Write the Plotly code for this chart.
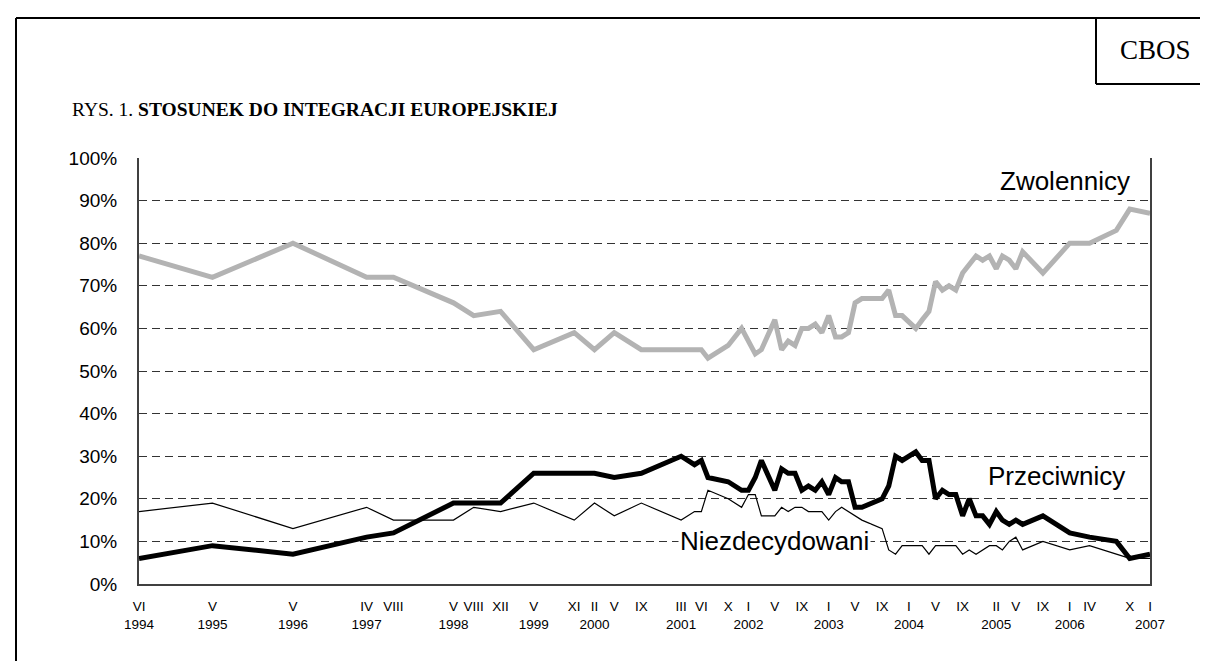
import plotly.graph_objects as go

# ---- data ----
survey_dates = [
    "1994-06", "1995-05", "1996-05", "1997-04", "1997-08", "1998-05", "1998-08", "1998-12",
    "1999-05", "1999-11", "2000-02", "2000-05", "2000-09", "2001-03", "2001-05", "2001-06",
    "2001-07", "2001-10", "2001-12", "2002-01", "2002-02", "2002-03", "2002-05", "2002-06",
    "2002-07", "2002-08", "2002-09", "2002-10", "2002-11", "2002-12", "2003-01", "2003-02",
    "2003-03", "2003-04", "2003-05", "2003-06", "2003-09", "2003-10", "2003-11", "2003-12",
    "2004-02", "2004-03", "2004-04", "2004-05", "2004-06", "2004-07", "2004-08", "2004-09",
    "2004-10", "2004-11", "2004-12", "2005-01", "2005-02", "2005-03", "2005-04", "2005-05",
    "2005-06", "2005-09", "2006-01", "2006-04", "2006-08", "2006-10", "2007-01",
]
zwolennicy = [
    77, 72, 80, 72, 72, 66, 63, 64,
    55, 59, 55, 59, 55, 55, 55, 55,
    53, 56, 60, 57, 54, 55, 62, 55,
    57, 56, 60, 60, 61, 59, 63, 58,
    58, 59, 66, 67, 67, 69, 63, 63,
    60, 62, 64, 71, 69, 70, 69, 73,
    75, 77, 76, 77, 74, 77, 76, 74,
    78, 73, 80, 80, 83, 88, 87,
]
przeciwnicy = [
    6, 9, 7, 11, 12, 19, 19, 19,
    26, 26, 26, 25, 26, 30, 28, 29,
    25, 24, 22, 22, 25, 29, 22, 27,
    26, 26, 22, 23, 22, 24, 21, 25,
    24, 24, 18, 18, 20, 23, 30, 29,
    31, 29, 29, 20, 22, 21, 21, 16,
    20, 16, 16, 14, 17, 15, 14, 15,
    14, 16, 12, 11, 10, 6, 7,
]
niezdecydowani = [
    17, 19, 13, 18, 15, 15, 18, 17,
    19, 15, 19, 16, 19, 15, 17, 17,
    22, 20, 18, 21, 21, 16, 16, 18,
    17, 18, 18, 17, 17, 17, 15, 17,
    18, 17, 16, 15, 13, 8, 7, 9,
    9, 9, 7, 9, 9, 9, 9, 7,
    8, 7, 8, 9, 9, 8, 10, 11,
    8, 10, 8, 9, 7, 6, 6,
]

tick_dates = [
    "1994-06", "1995-05", "1996-05", "1997-04", "1997-08", "1998-05", "1998-08", "1998-12",
    "1999-05", "1999-11", "2000-02", "2000-05", "2000-09", "2001-03", "2001-06", "2001-10",
    "2002-01", "2002-05", "2002-09", "2003-01", "2003-05", "2003-09", "2004-01", "2004-05",
    "2004-09", "2005-02", "2005-05", "2005-09", "2006-01", "2006-04", "2006-10", "2007-01",
]
tick_months = [
    "VI", "V", "V", "IV", "VIII", "V", "VIII", "XII",
    "V", "XI", "II", "V", "IX", "III", "VI", "X",
    "I", "V", "IX", "I", "V", "IX", "I", "V",
    "IX", "II", "V", "IX", "I", "IV", "X", "I",
]
tick_years = [
    "1994", "1995", "1996", "1997", "", "1998", "", "",
    "1999", "", "2000", "", "", "2001", "", "",
    "2002", "", "", "2003", "", "", "2004", "",
    "", "2005", "", "", "2006", "", "", "2007",
]
y_ticks = [0, 10, 20, 30, 40, 50, 60, 70, 80, 90, 100]

# ---- layout helpers (pixel -> paper) ----
W, H = 1208, 661
X0, X1, Y0, Y1 = 131, 1142, 150, 576


def px(x):
    return (x - X0) / (X1 - X0)


def py(y):
    return (Y1 - y) / (Y1 - Y0)


xs = [d + "-01" for d in survey_dates]
tv = [d + "-01" for d in tick_dates]
tt = [m + ("<br>" + y if y else "") for m, y in zip(tick_months, tick_years)]

fig = go.Figure()
fig.add_trace(go.Scatter(x=xs, y=niezdecydowani, mode="lines",
                         line=dict(color="black", width=1.2), name="Niezdecydowani",
                         showlegend=False))
fig.add_trace(go.Scatter(x=xs, y=zwolennicy, mode="lines",
                         line=dict(color="#b3b3b3", width=5), name="Zwolennicy",
                         showlegend=False))
fig.add_trace(go.Scatter(x=xs, y=przeciwnicy, mode="lines",
                         line=dict(color="black", width=5), name="Przeciwnicy",
                         showlegend=False))

fig.update_layout(
    width=W, height=H, autosize=False,
    margin=dict(l=X0, r=W - X1, t=Y0, b=H - Y1, pad=0),
    paper_bgcolor="white", plot_bgcolor="white",
    font=dict(family="Liberation Sans, Arial, sans-serif", color="black"),
    xaxis=dict(
        type="date", range=["1994-06-01", "2007-01-01"],
        tickmode="array", tickvals=tv, ticktext=tt, tickangle=0,
        tickfont=dict(size=13.5), ticks="", ticklabelstandoff=9,
        showgrid=False, zeroline=False,
        showline=True, linecolor="#404040", linewidth=2,
    ),
    yaxis=dict(
        range=[0, 100], tickmode="array", tickvals=y_ticks,
        ticktext=[f"{v}%" for v in y_ticks],
        tickfont=dict(size=19), ticks="", ticklabelstandoff=16,
        showgrid=True, gridcolor="#333333", gridwidth=1, griddash="8px,5px",
        zeroline=False,
        showline=True, linecolor="#404040", linewidth=2, mirror=True,
    ),
)

annotations = [
    dict(x=px(62), y=py(101), xanchor="left", yanchor="middle",
         text="RYS. 1. <b>STOSUNEK DO INTEGRACJI EUROPEJSKIEJ</b>",
         font=dict(family="Liberation Serif, Times New Roman, serif", size=19.5)),
    dict(x=px(1147), y=py(42), xanchor="center", yanchor="middle", text="CBOS",
         font=dict(family="Liberation Serif, Times New Roman, serif", size=27)),
    dict(x=px(1057), y=py(173), xanchor="center", yanchor="middle", text="Zwolennicy",
         font=dict(size=26)),
    dict(x=px(1048), y=py(468), xanchor="center", yanchor="middle", text="Przeciwnicy",
         font=dict(size=26)),
    dict(x=px(766), y=py(533), xanchor="center", yanchor="middle", text="Niezdecydowani",
         font=dict(size=26), bgcolor="white", borderpad=1),
]
for a in annotations:
    a.update(xref="paper", yref="paper", showarrow=False)
fig.update_layout(annotations=annotations)

frame = dict(color="black", width=2)
shapes = [
    dict(type="line", x0=px(8), x1=px(1208), y0=py(10), y1=py(10), line=frame),
    dict(type="line", x0=px(8), x1=px(8), y0=py(10), y1=py(661), line=frame),
    dict(type="line", x0=px(1088), x1=px(1088), y0=py(10), y1=py(76), line=frame),
    dict(type="line", x0=px(1088), x1=px(1208), y0=py(76), y1=py(76), line=frame),
]
for s in shapes:
    s.update(xref="paper", yref="paper")
fig.update_layout(shapes=shapes)

fig.write_html("out.html")
